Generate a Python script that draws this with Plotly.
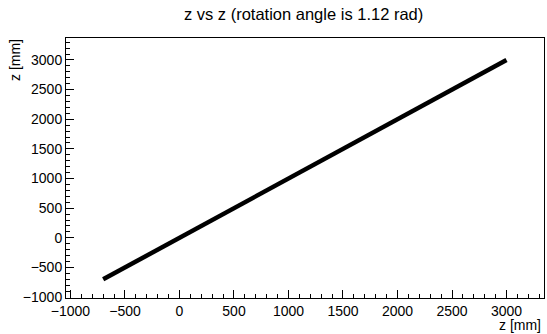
import plotly.graph_objects as go

# data: z vs z (identical coordinates)
z_x = [-700, -500, 0, 500, 1000, 1500, 2000, 2500, 3000]
z_y = [-700, -500, 0, 500, 1000, 1500, 2000, 2500, 3000]

title_text = "z vs z (rotation angle is 1.12 rad)"
x_title = "z [mm]"
y_title = "z [mm]"

fig = go.Figure()
fig.add_trace(go.Scatter(x=z_x, y=z_y, mode="lines",
                         line=dict(color="black", width=4.5), showlegend=False))

fam = "Liberation Sans, Arial, sans-serif"
font = dict(family=fam, size=14, color="black")

axis_common = dict(
    showgrid=False, zeroline=False,
    showline=True, linecolor="black", linewidth=1, mirror=True,
    ticks="inside", ticklen=8, tickcolor="black", tickwidth=1,
    dtick=500,
    minor=dict(ticks="inside", ticklen=4, dtick=100, tickcolor="black", showgrid=False),
    tickfont=font,
)

fig.update_layout(
    width=547, height=334,
    margin=dict(l=66, r=3, t=38, b=36),
    paper_bgcolor="white", plot_bgcolor="white",
    font=font,
    title=dict(text=title_text, x=0.555, xanchor="center", y=0.957, yanchor="middle",
               font=dict(family=fam, size=16.5, color="black")),
    xaxis=dict(range=[-1041, 3344], **axis_common),
    yaxis=dict(range=[-1015, 3370], **axis_common),
    annotations=[
        dict(text=x_title, xref="paper", yref="paper", x=1.0, y=0, xanchor="right",
             yanchor="middle", yshift=-27, xshift=-1, showarrow=False, font=font),
        dict(text=y_title, xref="paper", yref="paper", x=0, y=1.0, xanchor="center",
             yanchor="top", xshift=-51, yshift=1, textangle=-90, showarrow=False, font=font),
    ],
)

# remove the default page margin so the figure fills the window exactly
fig.write_html("out.html", config={"displayModeBar": False},
               post_script="document.body.style.margin='0';")
